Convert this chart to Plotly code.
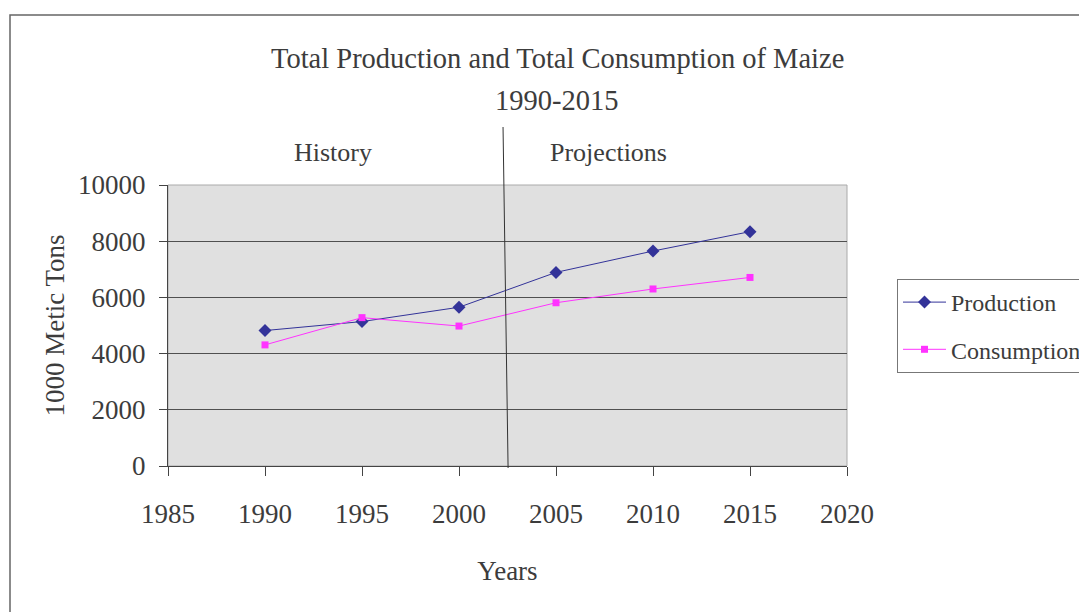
import plotly.graph_objects as go

years = [1990, 1995, 2000, 2005, 2010, 2015]
production = [4820, 5140, 5650, 6890, 7650, 8340]
consumption = [4310, 5280, 4980, 5810, 6300, 6710]
x_ticks = [1985, 1990, 1995, 2000, 2005, 2010, 2015, 2020]
y_ticks = [0, 2000, 4000, 6000, 8000, 10000]
divider_year = 2002.4

FONT = "Liberation Serif"
TXT = "#3c3c3c"

OFF = 8  # page body offset in the browser
W, H = 1150, 612
L, R, T, B = 160, 311, 177, 154
pw = W - L - R
ph = H - T - B

def sx(px):
    # screen x pixel -> paper x
    return (px - OFF - L) / pw

def sy(py):
    # screen y pixel -> paper y
    return (H - B - (py - OFF)) / ph

fig = go.Figure()
fig.add_trace(go.Scatter(
    x=years, y=production, name="Production", mode="lines+markers",
    legendgroup="p",
    line=dict(color="#333399", width=1),
    marker=dict(symbol="diamond", size=10, color="#333399"),
))
fig.add_trace(go.Scatter(
    x=years, y=consumption, name="Consumption", mode="lines+markers",
    legendgroup="c",
    line=dict(color="#ff33ff", width=1),
    marker=dict(symbol="square", size=7, color="#ff33ff"),
))

fig.update_layout(
    width=W, height=H,
    margin=dict(l=L, r=R, t=T, b=B),
    paper_bgcolor="white",
    plot_bgcolor="#e0e0e0",
    font=dict(family=FONT, size=26, color=TXT),
    showlegend=True,
    legend=dict(
        x=sx(897), y=sy(279),
        xanchor="left", yanchor="top",
        bordercolor="#777777", borderwidth=1,
        font=dict(family=FONT, size=24, color=TXT),
        bgcolor="white", tracegroupgap=13, traceorder="grouped",
        itemwidth=43,
    ),
    xaxis=dict(
        range=[1985, 2020], tickvals=x_ticks, ticktext=[str(v) for v in x_ticks],
        showgrid=False, zeroline=False,
        showline=True, linecolor="#444444", linewidth=1,
        ticks="outside", ticklen=9, tickcolor="#444444",
        ticklabelstandoff=15,
        tickfont=dict(family=FONT, size=27, color=TXT),
        title=dict(text="Years", font=dict(family=FONT, size=27, color=TXT), standoff=32),
    ),
    yaxis=dict(
        range=[0, 10000], tickvals=y_ticks, ticktext=[str(v) for v in y_ticks],
        showgrid=True, gridcolor="#505050", gridwidth=1, zeroline=False,
        showline=True, linecolor="#444444", linewidth=1,
        ticks="outside", ticklen=8, tickcolor="#444444",
        ticklabelstandoff=8,
        tickfont=dict(family=FONT, size=27, color=TXT),
        title=dict(text="1000 Metic Tons", font=dict(family=FONT, size=27, color=TXT), standoff=5),
    ),
)

# plot area light border (top and right)
fig.add_shape(type="rect", xref="paper", yref="paper", x0=0, x1=1, y0=0, y1=1,
              line=dict(color="#aaaaaa", width=1), layer="below")

# outer chart border
fig.add_shape(type="rect", xref="paper", yref="paper",
              x0=sx(10), x1=sx(1140),
              y0=sy(650), y1=sy(15),
              line=dict(color="#666666", width=1.5))

# divider line between history and projections
fig.add_shape(type="line", xref="x", yref="paper",
              x0=divider_year - 0.13, x1=divider_year + 0.13,
              y0=sy(127), y1=sy(468),
              line=dict(color="#333333", width=1))

def label(text, x, y, size):
    fig.add_annotation(text=text, xref="paper", yref="paper", x=sx(x), y=sy(y),
                       xanchor="center", yanchor="middle", showarrow=False,
                       font=dict(family=FONT, size=size, color=TXT))

label("Total Production and Total Consumption of Maize", 557, 58, 28.5)
label("1990-2015", 557, 100, 28.5)
label("History", 333, 152, 26)
label("Projections", 608, 152, 26)

fig.write_html("out.html")
